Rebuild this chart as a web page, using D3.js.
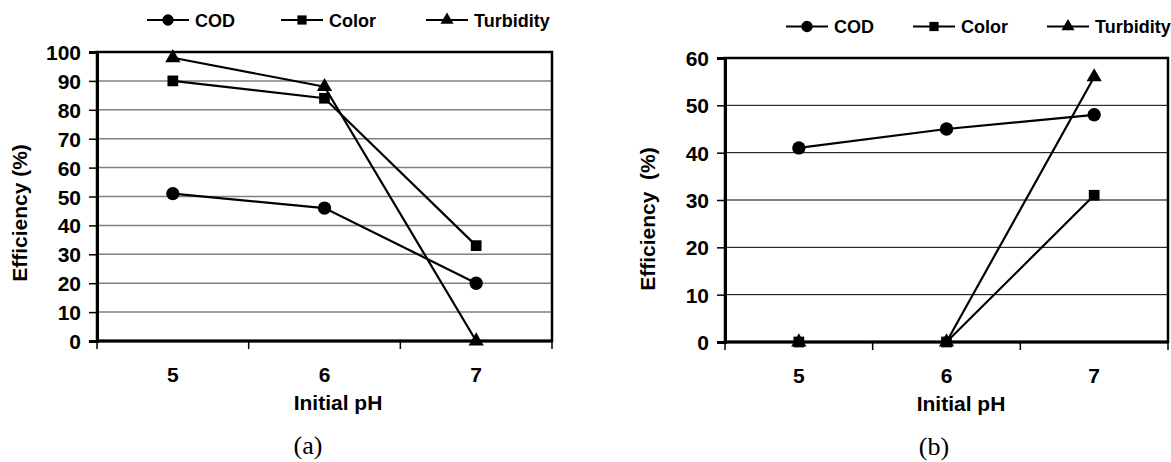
<!DOCTYPE html>
<html>
<head>
<meta charset="utf-8">
<script src="https://cdn.jsdelivr.net/npm/d3@7"></script>
<style>
  body { margin: 0; background: #fff; }
  svg text { font-family: "Liberation Sans", Arial, sans-serif; font-weight: bold; fill: #000; }
  svg text.sub { font-family: "Liberation Serif", "Times New Roman", serif; font-weight: normal; }
</style>
</head>
<body>
<div id="chart"></div>
<script>
// categories and tick labels
const phLevels = ['5', '6', '7'];
const seriesNames = ['COD', 'Color', 'Turbidity'];
const yTicksA = [0, 10, 20, 30, 40, 50, 60, 70, 80, 90, 100];
const yTicksB = [0, 10, 20, 30, 40, 50, 60];

// panel (a) values, efficiency %
const codA = [51, 46, 20];
const colorA = [90, 84, 33];
const turbidityA = [98, 88, 0];

// panel (b) values, efficiency %
const codB = [41, 45, 48];
const colorB = [0, 0, 31];
const turbidityB = [0, 0, 56];

const symbols = { COD: d3.symbolCircle, Color: d3.symbolSquare, Turbidity: d3.symbolTriangle };
const markerSize = { COD: 140, Color: 115, Turbidity: 100 };
const legendSize = { COD: 100, Color: 85, Turbidity: 75 };

const svg = d3.select('#chart').append('svg')
  .attr('width', 1171)
  .attr('height', 462);

function drawPanel(p) {
  const g = svg.append('g');
  const x = d3.scaleBand().domain(phLevels).range([p.left, p.right]).padding(0);
  const y = d3.scaleLinear().domain([0, p.yMax]).range([p.bottom, p.top]);
  const cx = d => x(d) + x.bandwidth() / 2;

  // horizontal gridlines
  g.selectAll('.grid')
    .data(p.yTicks.filter(t => t > 0 && t < p.yMax))
    .enter()
    .append('line')
    .attr('x1', p.left)
    .attr('x2', p.right)
    .attr('y1', d => y(d))
    .attr('y2', d => y(d))
    .attr('stroke', p.gridColor)
    .attr('stroke-width', p.gridWidth);

  // plot area border
  g.append('rect')
    .attr('x', p.left)
    .attr('y', p.top)
    .attr('width', p.right - p.left)
    .attr('height', p.bottom - p.top)
    .attr('fill', 'none')
    .attr('stroke', '#000')
    .attr('stroke-width', 2.5);

  // y axis
  const gy = g.append('g')
    .attr('transform', `translate(${p.left},0)`)
    .call(d3.axisLeft(y).tickValues(p.yTicks).tickSize(8).tickPadding(8));
  gy.select('.domain').attr('stroke-width', 3);
  gy.selectAll('.tick line').attr('stroke-width', 1.5);
  gy.selectAll('text').style('font-size', '21px').attr('dy', '0.36em');

  // x axis: labels at band centres, ticks at band edges
  const gx = g.append('g')
    .attr('transform', `translate(0,${p.bottom})`)
    .call(d3.axisBottom(x).tickSize(0).tickPadding(26));
  gx.select('.domain').remove();
  gx.selectAll('text').style('font-size', '21px');
  g.append('line')
    .attr('x1', p.left).attr('x2', p.right)
    .attr('y1', p.bottom).attr('y2', p.bottom)
    .attr('stroke', '#000').attr('stroke-width', 3);
  g.selectAll('.xtick')
    .data(phLevels.map(d => x(d)).concat([p.right]))
    .enter()
    .append('line')
    .attr('x1', d => d).attr('x2', d => d)
    .attr('y1', p.bottom).attr('y2', p.bottom + 8)
    .attr('stroke', '#000').attr('stroke-width', 1.5);

  // series lines and markers
  const line = d3.line().x((d, i) => cx(phLevels[i])).y(d => y(d));
  p.series.slice().reverse().forEach(s => {
    g.append('path')
      .datum(s.values)
      .attr('d', line)
      .attr('fill', 'none')
      .attr('stroke', '#000')
      .attr('stroke-width', 2.2);
    g.selectAll(null)
      .data(s.values)
      .enter()
      .append('path')
      .attr('transform', (d, i) => `translate(${cx(phLevels[i])},${y(d)})`)
      .attr('d', d3.symbol(symbols[s.name], markerSize[s.name]))
      .attr('fill', '#000');
  });

  // legend
  p.series.forEach((s, i) => {
    const lx = p.legendX[i];
    g.append('line')
      .attr('x1', lx).attr('x2', lx + 42)
      .attr('y1', p.legendY).attr('y2', p.legendY)
      .attr('stroke', '#000').attr('stroke-width', 2.2);
    g.append('path')
      .attr('transform', `translate(${lx + 21},${p.legendY})`)
      .attr('d', d3.symbol(symbols[s.name], legendSize[s.name]))
      .attr('fill', '#000');
    g.append('text')
      .attr('x', lx + 48)
      .attr('y', p.legendY + 6.5)
      .style('font-size', '18px')
      .text(s.name);
  });

  // axis titles
  g.append('text')
    .attr('transform', `translate(${p.yTitleX},${p.yTitleY}) rotate(-90)`)
    .attr('text-anchor', 'middle')
    .attr('dy', '0.35em')
    .style('font-size', '21px')
    .style('white-space', 'pre')
    .text(p.yTitle);
  g.append('text')
    .attr('x', p.xTitleX)
    .attr('y', p.xTitleY)
    .attr('text-anchor', 'middle')
    .style('font-size', '21px')
    .text('Initial pH');

  // panel caption
  g.append('text')
    .attr('class', 'sub')
    .attr('x', p.captionX)
    .attr('y', p.captionY)
    .attr('text-anchor', 'middle')
    .style('font-size', '26px')
    .text(p.caption);
}

drawPanel({
  left: 97, right: 552, top: 52, bottom: 341,
  yMax: 100, yTicks: yTicksA,
  gridColor: '#808080', gridWidth: 1.5,
  series: [
    { name: seriesNames[0], values: codA },
    { name: seriesNames[1], values: colorA },
    { name: seriesNames[2], values: turbidityA }
  ],
  legendX: [147, 281, 426], legendY: 20,
  yTitle: 'Efficiency (%)', yTitleX: 20, yTitleY: 213,
  xTitleX: 338, xTitleY: 410,
  caption: '(a)', captionX: 308, captionY: 454
});

drawPanel({
  left: 725, right: 1168, top: 58, bottom: 342,
  yMax: 60, yTicks: yTicksB,
  gridColor: '#000', gridWidth: 1,
  series: [
    { name: seriesNames[0], values: codB },
    { name: seriesNames[1], values: colorB },
    { name: seriesNames[2], values: turbidityB }
  ],
  legendX: [786, 913, 1047], legendY: 26.5,
  yTitle: 'Efficiency  (%)', yTitleX: 648, yTitleY: 219,
  xTitleX: 961, xTitleY: 411,
  caption: '(b)', captionX: 934, captionY: 455
});
</script>
</body>
</html>
